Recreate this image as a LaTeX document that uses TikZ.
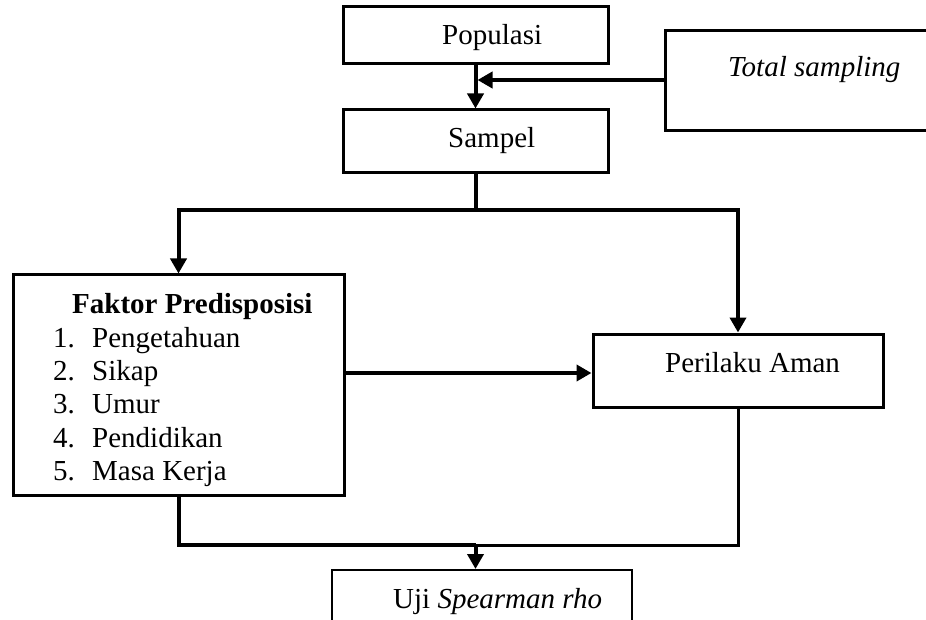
\documentclass[tikz,border=0pt]{standalone}
\usepackage{fontspec}
\setmainfont{Liberation Serif}
\usetikzlibrary{arrows.meta}
\begin{document}
\begin{tikzpicture}[x=1pt,y=-1pt,
  box/.style={draw,line width=3pt,inner sep=0pt,rectangle},
  conn/.style={line width=4pt},
  arr/.style={conn,-{Triangle[length=15pt,width=16pt]}},
  lbl/.style={anchor=base west,inner sep=0pt,font=\fontsize{29}{33}\selectfont}]
\useasboundingbox (0,0) rectangle (926,620);
\fill[white] (0,0) rectangle (926,620);
% boxes
\node (pop)  [box, minimum width=265pt, minimum height=57pt]  at (475.5,35.5) {};
\node (samp) [box, minimum width=265pt, minimum height=63pt]  at (475.5,141.5) {};
\node (ts)   [box, minimum width=275pt, minimum height=100pt] at (802.5,81) {};
\node (fak)  [box, minimum width=331pt, minimum height=220pt] at (178.5,385) {};
\node (per)  [box, minimum width=290pt, minimum height=73pt]  at (738,370.5) {};
\node (uji)  [box, line width=2pt, minimum width=300pt, minimum height=80pt] at (482,610) {};
% texts
\node (tpop)  [lbl] at (442,45)  {Populasi};
\node (tsamp) [lbl] at (448,148) {Sampel};
\node (tts)   [lbl] at (728,77)  {\itshape Total sampling};
\node (tfak)  [lbl] at (72,313)  {\bfseries Faktor Predisposisi};
\node (n1) [lbl] at (53,347) {1.};
\node (n2) [lbl] at (53,380) {2.};
\node (n3) [lbl] at (53,413) {3.};
\node (n4) [lbl] at (53,447) {4.};
\node (n5) [lbl] at (53,480) {5.};
\node (i1) [lbl] at (92,347) {Pengetahuan};
\node (i2) [lbl] at (92,380) {Sikap};
\node (i3) [lbl] at (92,413) {Umur};
\node (i4) [lbl] at (92,447) {Pendidikan};
\node (i5) [lbl] at (92,480) {Masa Kerja};
\node (tper) [lbl] at (665,372) {Perilaku Aman};
\node (tuji) [lbl] at (393,608) {Uji \textit{Spearman rho}};
% connectors
\coordinate (j1) at (477.5,80);
\coordinate (s1) at (475.5,210);
\coordinate (b1) at (475.5,545);
\draw[arr] (pop.south) -- (samp.north);
\draw[arr] (ts.west |- j1) -- (j1);
\draw[conn] (samp.south) -- (s1);
\draw[arr] (s1) -| (fak.north);
\draw[arr] (s1) -| (per.north);
\draw[arr] (fak.east |- 0,373) -- (per.west |- 0,373);
\draw[conn] (fak.south) |- (b1);
\draw[line width=3pt] (per.south) |- (b1);
\draw[arr] (b1) -- (b1 |- uji.north);
\end{tikzpicture}
\end{document}
